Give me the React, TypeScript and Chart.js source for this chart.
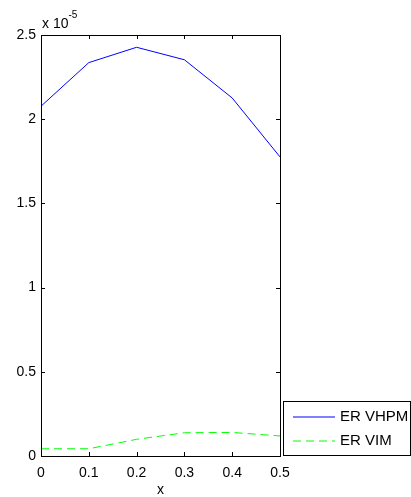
import React, { useEffect, useRef } from "react";
import { Chart, registerables } from "chart.js";

Chart.register(...registerables);

const xValues = [0, 0.1, 0.2, 0.3, 0.4, 0.5];
const erVhpm = [2.077e-5, 2.336e-5, 2.427e-5, 2.353e-5, 2.126e-5, 1.776e-5];
const erVim = [0.043e-5, 0.043e-5, 0.099e-5, 0.138e-5, 0.14e-5, 0.119e-5];
const seriesLabels = ["ER VHPM", "ER VIM"];
const seriesColors = ["#0000ff", "#00ff00"];
const xTicks = [0, 0.1, 0.2, 0.3, 0.4, 0.5];
const yTicks = [0, 0.5e-5, 1e-5, 1.5e-5, 2e-5, 2.5e-5];

const FONT = "'Liberation Sans', Arial, Helvetica, sans-serif";

const framePlugin = {
  id: "matlabFrame",
  afterDraw(chart: any) {
    const { ctx, chartArea: a, scales } = chart;
    const xs = scales.x;
    const ys = scales.y;
    ctx.save();
    ctx.strokeStyle = "#000";
    ctx.lineWidth = 1;
    // ticks
    ctx.beginPath();
    xTicks.forEach((t) => {
      const px = Math.round(xs.getPixelForValue(t)) + 0.5;
      ctx.moveTo(px, a.bottom);
      ctx.lineTo(px, a.bottom - 4);
      ctx.moveTo(px, a.top);
      ctx.lineTo(px, a.top + 4);
    });
    yTicks.forEach((t) => {
      const py = Math.round(ys.getPixelForValue(t)) + 0.5;
      ctx.moveTo(a.left, py);
      ctx.lineTo(a.left + 4, py);
      ctx.moveTo(a.right, py);
      ctx.lineTo(a.right - 4, py);
    });
    ctx.stroke();
    // frame
    ctx.strokeRect(Math.round(a.left) + 0.5, Math.round(a.top) + 0.5, Math.round(a.right - a.left), Math.round(a.bottom - a.top));
    // exponent label
    ctx.fillStyle = "#000";
    ctx.textBaseline = "alphabetic";
    ctx.textAlign = "left";
    ctx.font = `14px ${FONT}`;
    ctx.fillText("x 10", a.left + 1, a.top - 7);
    const w = ctx.measureText("x 10").width;
    ctx.font = `10px ${FONT}`;
    ctx.fillText("-5", a.left + 1 + w, a.top - 17);
    // legend
    const lx = a.right + 3;
    const ly = a.bottom - 55;
    const lw = 127;
    const lh = 54;
    ctx.fillStyle = "#fff";
    ctx.fillRect(lx, ly, lw, lh);
    ctx.strokeStyle = "#000";
    ctx.strokeRect(lx + 0.5, ly + 0.5, lw, lh);
    chart.data.datasets.forEach((ds: any, i: number) => {
      const yy = ly + 16 + i * 24;
      ctx.beginPath();
      ctx.strokeStyle = seriesColors[i];
      ctx.lineWidth = 1;
      ctx.setLineDash(i === 1 ? [8, 5] : []);
      ctx.moveTo(lx + 10, yy);
      ctx.lineTo(lx + 52, yy);
      ctx.stroke();
      ctx.setLineDash([]);
      ctx.fillStyle = "#000";
      ctx.font = `15px ${FONT}`;
      ctx.textBaseline = "middle";
      ctx.fillText(ds.label, lx + 57, yy);
    });
    ctx.restore();
  },
};

export default function App() {
  const ref = useRef<HTMLCanvasElement>(null);
  useEffect(() => {
    document.body.style.margin = "0";
    const canvas = ref.current!;
    const chart = new Chart(canvas, {
      type: "line",
      data: {
        datasets: [
          {
            label: seriesLabels[0],
            data: xValues.map((x, i) => ({ x, y: erVhpm[i] })),
            borderColor: seriesColors[0],
            borderWidth: 1,
            pointRadius: 0,
            fill: false,
            tension: 0,
          },
          {
            label: seriesLabels[1],
            data: xValues.map((x, i) => ({ x, y: erVim[i] })),
            borderColor: seriesColors[1],
            borderWidth: 1,
            borderDash: [8, 5],
            pointRadius: 0,
            fill: false,
            tension: 0,
          },
        ],
      },
      options: {
        animation: false,
        responsive: false,
        devicePixelRatio: 1,
        layout: { padding: { top: 35, right: 131, left: 0, bottom: 0 } },
        plugins: { legend: { display: false }, tooltip: { enabled: false } },
        scales: {
          x: {
            type: "linear",
            min: 0,
            max: 0.5,
            afterFit: (s: any) => {
              s.height = 41;
            },
            afterBuildTicks: (s: any) => {
              s.ticks = xTicks.map((v) => ({ value: v }));
            },
            grid: { display: false, drawTicks: false },
            border: { display: false },
            ticks: {
              color: "#000",
              font: { family: FONT, size: 14 },
              padding: 9,
              maxRotation: 0,
              callback: (v: any) => String(parseFloat(Number(v).toFixed(2))),
            },
            title: {
              display: true,
              text: "x",
              color: "#000",
              font: { family: FONT, size: 14 },
              padding: { top: 0, bottom: -2 },
            },
          },
          y: {
            type: "linear",
            min: 0,
            max: 2.5e-5,
            afterFit: (s: any) => {
              s.width = 41;
            },
            afterBuildTicks: (s: any) => {
              s.ticks = yTicks.map((v) => ({ value: v }));
            },
            grid: { display: false, drawTicks: false },
            border: { display: false },
            ticks: {
              color: "#000",
              font: { family: FONT, size: 14 },
              padding: 5,
              callback: (v: any) => String(parseFloat((Number(v) / 1e-5).toFixed(2))),
            },
          },
        },
      },
      plugins: [framePlugin],
    });
    return () => chart.destroy();
  }, []);
  return (
    <div style={{ width: 411, height: 497 }}>
      <canvas ref={ref} width={411} height={497} style={{ display: "block" }} />
    </div>
  );
}
